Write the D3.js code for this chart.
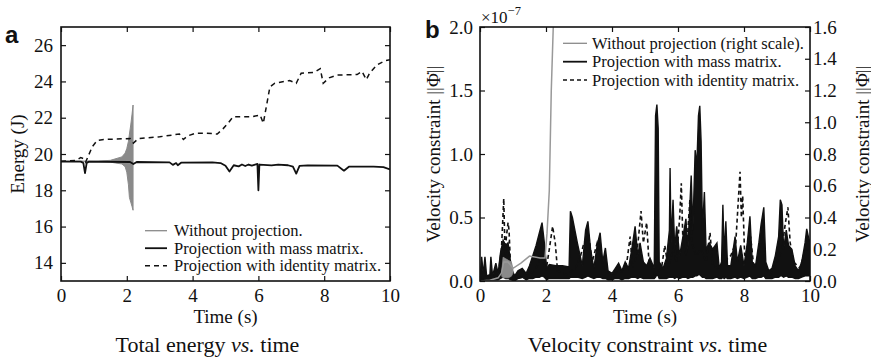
<!DOCTYPE html>
<html>
<head>
<meta charset="utf-8">
<script src="https://cdn.jsdelivr.net/npm/d3@7"></script>
<style>
  html, body { margin: 0; padding: 0; background: #fff; }
  svg { display: block; }
  text { font-family: "Liberation Serif", "Times New Roman", serif; fill: #111; }
  text.letter { font-family: "Liberation Sans", Arial, sans-serif; font-weight: bold; }
</style>
</head>
<body>
<svg id="chart" width="871" height="364"></svg>
<script>
// ---- Panel a: total energy (J) vs time (s) ----
const energyTicksX = [0, 2, 4, 6, 8, 10];
const energyTicksY = [14, 16, 18, 20, 22, 24, 26];

// projection with mass matrix
const massT = [0, 0.6, 0.68, 0.73, 0.78, 0.85, 2.1, 2.2, 2.3, 3.3, 3.4, 3.5, 3.55, 3.65, 4.6, 4.85, 5.0, 5.12, 5.25, 5.4, 5.5, 5.6, 5.7, 5.8, 5.9, 5.97, 6.0, 6.03, 6.4, 6.6, 6.9, 7.05, 7.15, 7.25, 7.5, 8.4, 8.6, 8.75, 9.5, 9.8, 10];
const massE = [19.58, 19.58, 19.5, 18.95, 19.5, 19.58, 19.56, 19.45, 19.56, 19.54, 19.4, 19.5, 19.38, 19.52, 19.54, 19.5, 19.35, 19.03, 19.38, 19.32, 19.42, 19.34, 19.42, 19.36, 19.42, 19.45, 18.0, 19.42, 19.37, 19.42, 19.38, 19.3, 18.92, 19.35, 19.37, 19.36, 19.08, 19.3, 19.3, 19.28, 19.15];

// projection with identity matrix
const identT = [0, 0.45, 0.6, 0.68, 0.75, 0.82, 0.95, 1.1, 1.3, 2.1, 2.2, 2.35, 3.0, 3.4, 3.6, 3.72, 3.85, 4.1, 4.4, 4.75, 4.93, 5.1, 5.23, 5.8, 6.05, 6.15, 6.35, 6.5, 6.95, 7.15, 7.3, 7.7, 7.88, 7.97, 8.15, 8.4, 9.0, 9.15, 9.28, 9.38, 9.6, 9.85, 10];
const identE = [19.6, 19.65, 19.8, 19.75, 19.55, 19.85, 20.4, 20.75, 20.8, 20.85, 20.6, 20.85, 20.95, 21.05, 21.1, 20.8, 21.0, 21.15, 21.15, 21.1, 21.4, 21.75, 22.05, 22.05, 22.15, 21.7, 23.7, 23.9, 24.05, 23.9, 24.45, 24.5, 24.7, 23.9, 24.2, 24.35, 24.38, 24.55, 24.1, 24.45, 24.9, 25.15, 25.2];

// without projection: oscillation envelope before the run blows up
const freeT  = [0, 1.0, 1.5, 1.85, 1.95, 2.0, 2.05, 2.08, 2.12, 2.16, 2.19];
const freeHi = [19.6, 19.6, 19.65, 19.84, 20.05, 20.3, 20.7, 21.1, 21.6, 22.2, 22.7];
const freeLo = [19.6, 19.6, 19.55, 19.45, 19.3, 19.0, 18.3, 17.6, 17.35, 17.1, 16.9];

// ---- Panel b: velocity constraint norm vs time (s) ----
const velTicksX = [0, 2, 4, 6, 8, 10];
const velTicksLeft = [0, 0.5, 1.0, 1.5, 2.0];                       // ×1e-7
const velTicksRight = [0, 0.2, 0.4, 0.6, 0.8, 1.0, 1.2, 1.4, 1.6];

// projection with mass matrix: band of the fast oscillation (lower / upper), ×1e-7
const massVT = [0, 0.05, 0.10, 0.15, 0.20, 0.30, 0.33, 0.38, 0.48, 0.55, 0.62, 0.70, 0.78, 0.85, 0.95, 1.05, 1.15, 1.28, 1.40, 1.50, 1.60, 1.70, 1.80, 1.88, 1.95, 2.02, 2.10, 2.30, 2.50, 2.70, 2.74, 2.80, 2.95, 3.10, 3.20, 3.27, 3.35, 3.45, 3.55, 3.64, 3.72, 3.80, 3.88, 4.00, 4.10, 4.20, 4.30, 4.40, 4.50, 4.60, 4.70, 4.78, 4.85, 4.95, 5.05, 5.15, 5.28, 5.32, 5.36, 5.40, 5.43, 5.55, 5.65, 5.74, 5.76, 5.79, 5.85, 5.90, 5.96, 6.05, 6.15, 6.24, 6.30, 6.40, 6.45, 6.52, 6.57, 6.62, 6.66, 6.70, 6.74, 6.80, 6.85, 6.95, 7.05, 7.18, 7.25, 7.32, 7.36, 7.40, 7.45, 7.50, 7.60, 7.73, 7.80, 7.90, 8.00, 8.10, 8.18, 8.25, 8.35, 8.45, 8.52, 8.60, 8.66, 8.75, 8.85, 8.95, 9.05, 9.10, 9.15, 9.20, 9.28, 9.35, 9.45, 9.55, 9.65, 9.75, 9.85, 9.90, 9.95, 10.0];
const massVLo = [0, 0, 0.01, 0, 0.01, 0, 0.01, 0.01, 0.01, 0.01, 0.02, 0.03, 0.02, 0.02, 0.01, 0, 0.02, 0.03, 0.01, 0.02, 0.02, 0.03, 0.03, 0.04, 0.03, 0.01, 0.02, 0.02, 0.02, 0.02, 0.03, 0.03, 0.03, 0.02, 0.03, 0.04, 0.03, 0.02, 0.03, 0.03, 0.02, 0.02, 0.01, 0.01, 0.02, 0.02, 0.01, 0.02, 0.02, 0.03, 0.03, 0.02, 0.03, 0.02, 0.02, 0.02, 0.02, 0.03, 0.05, 0.04, 0.02, 0.02, 0.02, 0.03, 0.03, 0.03, 0.03, 0.02, 0.03, 0.02, 0.03, 0.03, 0.02, 0.03, 0.03, 0.04, 0.04, 0.05, 0.05, 0.04, 0.03, 0.03, 0.02, 0.02, 0.02, 0.03, 0.02, 0.02, 0.03, 0.02, 0.03, 0.02, 0.02, 0.03, 0.02, 0.03, 0.02, 0.03, 0.04, 0.02, 0.02, 0.03, 0.03, 0.04, 0.02, 0.02, 0.02, 0.03, 0.03, 0.04, 0.04, 0.03, 0.04, 0.03, 0.03, 0.02, 0.02, 0.03, 0.04, 0.04, 0.04, 0.04];
const massVHi = [0.02, 0.19, 0.05, 0.19, 0.04, 0.05, 0.19, 0.04, 0.14, 0.06, 0.22, 0.32, 0.28, 0.30, 0.10, 0.04, 0.08, 0.10, 0.06, 0.12, 0.20, 0.28, 0.38, 0.46, 0.30, 0.10, 0.13, 0.12, 0.12, 0.11, 0.55, 0.50, 0.30, 0.12, 0.40, 0.47, 0.25, 0.10, 0.28, 0.38, 0.15, 0.26, 0.08, 0.06, 0.10, 0.14, 0.08, 0.15, 0.10, 0.25, 0.43, 0.20, 0.30, 0.15, 0.12, 0.18, 0.10, 1.30, 1.39, 1.20, 0.15, 0.10, 0.18, 0.40, 0.89, 0.30, 0.64, 0.25, 0.43, 0.20, 0.35, 0.49, 0.25, 0.83, 0.40, 1.03, 0.90, 1.30, 1.38, 1.10, 0.40, 0.70, 0.25, 0.30, 0.25, 0.30, 0.10, 0.15, 0.60, 0.20, 0.47, 0.12, 0.12, 0.35, 0.15, 0.28, 0.12, 0.30, 0.51, 0.15, 0.12, 0.30, 0.45, 0.58, 0.15, 0.08, 0.10, 0.20, 0.35, 0.64, 0.60, 0.25, 0.40, 0.28, 0.25, 0.12, 0.08, 0.15, 0.30, 0.41, 0.35, 0.30];

// projection with identity matrix, ×1e-7
const identVT = [0, 0.30, 0.55, 0.65, 0.72, 0.76, 0.80, 0.85, 0.88, 0.92, 1.00, 1.10, 1.30, 1.50, 1.70, 1.85, 2.00, 2.10, 2.20, 2.28, 2.35, 2.60, 2.90, 3.05, 3.15, 3.30, 3.40, 3.55, 3.65, 3.75, 4.00, 4.30, 4.45, 4.55, 4.62, 4.75, 4.88, 4.95, 5.05, 5.12, 5.30, 5.50, 5.60, 5.70, 5.85, 5.95, 6.05, 6.10, 6.15, 6.25, 6.36, 6.42, 6.55, 6.70, 6.85, 6.97, 7.05, 7.20, 7.40, 7.60, 7.75, 7.88, 7.92, 7.96, 8.02, 8.10, 8.20, 8.30, 8.45, 8.55, 8.65, 8.80, 9.00, 9.15, 9.25, 9.33, 9.40, 9.50, 9.70, 9.85, 10.0];
const identV = [0.01, 0.02, 0.05, 0.25, 0.65, 0.20, 0.35, 0.46, 0.40, 0.15, 0.05, 0.02, 0.03, 0.05, 0.10, 0.20, 0.08, 0.25, 0.43, 0.30, 0.08, 0.05, 0.10, 0.20, 0.30, 0.35, 0.15, 0.30, 0.20, 0.10, 0.05, 0.08, 0.15, 0.35, 0.10, 0.20, 0.55, 0.30, 0.46, 0.15, 0.05, 0.10, 0.28, 0.10, 0.25, 0.15, 0.50, 0.77, 0.30, 0.20, 0.64, 0.30, 0.20, 0.25, 0.15, 0.38, 0.12, 0.10, 0.15, 0.20, 0.30, 0.86, 0.50, 0.67, 0.20, 0.25, 0.35, 0.10, 0.20, 0.40, 0.10, 0.05, 0.15, 0.25, 0.45, 0.58, 0.30, 0.15, 0.10, 0.25, 0.20];

// without projection (right scale)
const freeVT = [0, 0.30, 0.55, 0.65, 0.72, 0.85, 1.00, 1.24, 1.50, 1.82, 1.97, 2.03, 2.10, 2.16, 2.22, 2.26];
const freeV  = [0.0, 0.005, 0.02, 0.05, 0.12, 0.12, 0.08, 0.113, 0.157, 0.145, 0.145, 0.30, 0.57, 1.20, 1.60, 2.0];
const freeBandT  = [0.66, 0.70, 0.78, 0.86, 0.95, 1.00];
const freeBandLo = [0.03, 0.02, 0.02, 0.02, 0.03, 0.05];
const freeBandHi = [0.06, 0.15, 0.14, 0.13, 0.12, 0.08];

// ---- layout ----
const svg = d3.select("#chart");
const TICK_FONT = 19;
const GRAY = "#8a8a8a";

const frameA = { x0: 61, x1: 390, y0: 27, y1: 281 };
const frameB = { x0: 480, x1: 810, y0: 27, y1: 281 };

const xa = d3.scaleLinear([0, 10], [frameA.x0, frameA.x1]);
const ya = d3.scaleLinear([13, 27], [frameA.y1, frameA.y0]);
const xb = d3.scaleLinear([0, 10], [frameB.x0, frameB.x1]);
const ybl = d3.scaleLinear([0, 2], [frameB.y1, frameB.y0]);
const ybr = d3.scaleLinear([0, 1.6], [frameB.y1, frameB.y0]);

const defs = svg.append("defs");
function clip(id, f) {
  defs.append("clipPath").attr("id", id)
    .append("rect").attr("x", f.x0).attr("y", f.y0)
    .attr("width", f.x1 - f.x0).attr("height", f.y1 - f.y0);
}
clip("clipA", frameA);
clip("clipB", frameB);

function styleAxis(g) {
  g.select(".domain").remove();
  g.selectAll(".tick line").attr("stroke", "#111").attr("stroke-width", 1.2);
  g.selectAll(".tick text").attr("font-size", TICK_FONT).attr("fill", "#111");
}

function drawAxes(f, xs, xTicks, yLeft, yLeftTicks, yLeftFmt, yRight, yRightTicks, yRightFmt, leftPad, rightPad) {
  const bottom = svg.append("g").attr("transform", `translate(0,${f.y1})`)
    .call(d3.axisBottom(xs).tickValues(xTicks).tickSize(-5).tickPadding(8).tickFormat(d3.format("d")));
  styleAxis(bottom);
  const top = svg.append("g").attr("transform", `translate(0,${f.y0})`)
    .call(d3.axisTop(xs).tickValues(xTicks).tickSize(-5).tickFormat(""));
  styleAxis(top);
  const left = svg.append("g").attr("transform", `translate(${f.x0},0)`)
    .call(d3.axisLeft(yLeft).tickValues(yLeftTicks).tickSize(-5).tickPadding(leftPad).tickFormat(yLeftFmt));
  styleAxis(left);
  const right = svg.append("g").attr("transform", `translate(${f.x1},0)`)
    .call(d3.axisRight(yRight).tickValues(yRightTicks).tickSize(-5).tickPadding(rightPad)
      .tickFormat(yRightFmt || ""));
  styleAxis(right);
  svg.append("rect").attr("x", f.x0).attr("y", f.y0)
    .attr("width", f.x1 - f.x0).attr("height", f.y1 - f.y0)
    .attr("fill", "none").attr("stroke", "#111").attr("stroke-width", 1.6);
}

// ---- panel a marks ----
const gA = svg.append("g").attr("clip-path", "url(#clipA)");
const freeA = d3.range(freeT.length).map(i => ({ t: freeT[i], hi: freeHi[i], lo: freeLo[i] }));
gA.append("path").datum(freeA)
  .attr("d", d3.area().x(d => xa(d.t)).y0(d => ya(d.lo)).y1(d => ya(d.hi)))
  .attr("fill", GRAY).attr("stroke", GRAY).attr("stroke-width", 1);

const lineA = d3.line().x(d => xa(d[0])).y(d => ya(d[1]));
gA.append("path").datum(d3.zip(identT, identE)).attr("d", lineA)
  .attr("fill", "none").attr("stroke", "#111").attr("stroke-width", 1.5).attr("stroke-dasharray", "5,4");
gA.append("path").datum(d3.zip(massT, massE)).attr("d", lineA)
  .attr("fill", "none").attr("stroke", "#111").attr("stroke-width", 1.8).attr("stroke-linejoin", "round");

drawAxes(frameA, xa, energyTicksX, ya, energyTicksY, d3.format("d"), ya, energyTicksY, null, 8, 0);

// ---- panel b marks ----
const gB = svg.append("g").attr("clip-path", "url(#clipB)");
const massBand = d3.range(massVT.length).map(i => ({ t: massVT[i], lo: massVLo[i], hi: massVHi[i] }));
gB.append("path").datum(massBand)
  .attr("d", d3.area().x(d => xb(d.t)).y0(d => ybl(d.lo)).y1(d => ybl(d.hi)))
  .attr("fill", "#111").attr("stroke", "#111").attr("stroke-width", 1.4).attr("stroke-linejoin", "miter");

gB.append("path").datum(d3.zip(identVT, identV))
  .attr("d", d3.line().x(d => xb(d[0])).y(d => ybl(d[1])))
  .attr("fill", "none").attr("stroke", "#111").attr("stroke-width", 1.6).attr("stroke-dasharray", "4,3");

const freeBand = d3.range(freeBandT.length).map(i => ({ t: freeBandT[i], lo: freeBandLo[i], hi: freeBandHi[i] }));
gB.append("path").datum(freeBand)
  .attr("d", d3.area().x(d => xb(d.t)).y0(d => ybr(d.lo)).y1(d => ybr(d.hi)))
  .attr("fill", GRAY).attr("stroke", GRAY).attr("stroke-width", 0.8);
gB.append("path").datum(d3.zip(freeVT, freeV))
  .attr("d", d3.line().x(d => xb(d[0])).y(d => ybr(d[1])))
  .attr("fill", "none").attr("stroke", "#999").attr("stroke-width", 1.5);

drawAxes(frameB, xb, velTicksX, ybl, velTicksLeft, d3.format(".1f"), ybr, velTicksRight, d3.format(".1f"), 7, 3);

// ---- legends ----
function legend(x, text, rows, lineLen) {
  rows.forEach(r => {
    svg.append("line").attr("x1", x).attr("x2", x + lineLen).attr("y1", r.y).attr("y2", r.y)
      .attr("stroke", r.color).attr("stroke-width", r.w).attr("stroke-dasharray", r.dash || null);
    svg.append("text").attr("x", text).attr("y", r.y + 5.5).attr("font-size", 16.5).text(r.label);
  });
}
legend(145, 174, [
  { y: 230.7, color: GRAY, w: 1.3, label: "Without projection." },
  { y: 248.2, color: "#111", w: 1.8, label: "Projection with mass matrix." },
  { y: 265.7, color: "#111", w: 1.5, dash: "5,4", label: "Projection with identity matrix." }
], 22);
legend(563, 592, [
  { y: 43.3, color: GRAY, w: 1.3, label: "Without projection (right scale)." },
  { y: 61.7, color: "#111", w: 1.8, label: "Projection with mass matrix." },
  { y: 80, color: "#111", w: 1.5, dash: "4,3", label: "Projection with identity matrix." }
], 24);

// ---- axis titles, panel letters, captions ----
svg.append("text").attr("transform", "translate(17,154) rotate(-90)")
  .attr("text-anchor", "middle").attr("dominant-baseline", "central").attr("font-size", 19).text("Energy (J)");
svg.append("text").attr("x", (frameA.x0 + frameA.x1) / 2).attr("y", 323)
  .attr("text-anchor", "middle").attr("font-size", 19).text("Time (s)");
svg.append("text").attr("x", (frameB.x0 + frameB.x1) / 2).attr("y", 323)
  .attr("text-anchor", "middle").attr("font-size", 19).text("Time (s)");

function velLabel(x) {
  svg.append("text").attr("transform", `translate(${x},154) rotate(-90)`)
    .attr("text-anchor", "middle").attr("dominant-baseline", "central").attr("font-size", 19)
    .text("Velocity constraint ||\u03A6\u0307||");
}
velLabel(433);
velLabel(862);

const mult = svg.append("text").attr("x", 481).attr("y", 23).attr("font-size", 17);
mult.append("tspan").text("\u00D710");
mult.append("tspan").attr("dy", -8).attr("font-size", 12.5).text("\u22127");

svg.append("text").attr("class", "letter").attr("x", 5).attr("y", 43).attr("font-size", 24).text("a");
svg.append("text").attr("class", "letter").attr("x", 425).attr("y", 38).attr("font-size", 24).text("b");

function caption(x, pre, post) {
  const t = svg.append("text").attr("x", x).attr("y", 352).attr("text-anchor", "middle").attr("font-size", 22);
  t.append("tspan").text(pre);
  t.append("tspan").attr("font-style", "italic").text("vs.");
  t.append("tspan").text(post);
}
caption(207.5, "Total energy ", " time");
caption(647.5, "Velocity constraint ", " time");
</script>
</body>
</html>
